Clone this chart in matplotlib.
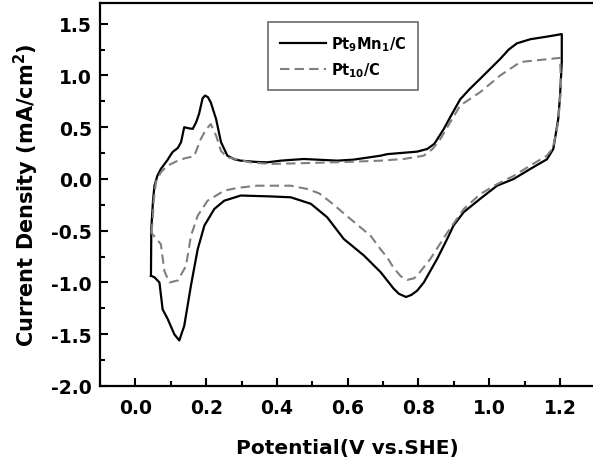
import matplotlib
matplotlib.use("Agg")
import matplotlib.pyplot as plt
from matplotlib.ticker import MultipleLocator

plt.rcParams['font.family'] = ['DejaVu Sans']
plt.rcParams['font.weight'] = 'bold'
plt.rcParams['mathtext.fontset'] = 'custom'
plt.rcParams['mathtext.rm'] = 'DejaVu Sans:bold'
plt.rcParams['mathtext.bf'] = 'DejaVu Sans:bold'
plt.rcParams['mathtext.it'] = 'DejaVu Sans:bold'

# Pt9Mn1/C (solid)
ptmn_x = [0.044, 0.045, 0.050, 0.054, 0.062, 0.072, 0.090, 0.105, 0.120, 0.129, 0.138, 0.150, 0.162,
          0.172, 0.180, 0.190, 0.197, 0.205, 0.213, 0.228, 0.242, 0.260, 0.280, 0.298, 0.340, 0.373,
          0.411, 0.476, 0.571, 0.617, 0.693, 0.712, 0.796, 0.825, 0.845, 0.871, 0.895, 0.918, 0.945,
          0.975, 1.031, 1.055, 1.078, 1.116, 1.172, 1.205,
          1.205, 1.200, 1.195, 1.181, 1.163, 1.116, 1.069, 1.022, 0.975, 0.928, 0.899, 0.881, 0.853,
          0.815, 0.796, 0.780, 0.765, 0.745, 0.730, 0.693, 0.646, 0.589, 0.542, 0.496, 0.439, 0.378,
          0.298, 0.251, 0.223, 0.195, 0.176, 0.157, 0.138, 0.124, 0.110, 0.091, 0.077, 0.068, 0.054,
          0.044]
ptmn_y = [-0.935, -0.48, -0.20, -0.065, 0.03, 0.097, 0.18, 0.26, 0.30, 0.355, 0.50, 0.49, 0.484,
          0.55, 0.63, 0.78, 0.806, 0.79, 0.74, 0.58, 0.355, 0.225, 0.19, 0.177, 0.165, 0.161,
          0.177, 0.193, 0.177, 0.187, 0.225, 0.24, 0.264, 0.29, 0.34, 0.48, 0.63, 0.77, 0.87,
          0.97, 1.16, 1.25, 1.31, 1.35, 1.38, 1.40,
          1.13, 0.80, 0.58, 0.29, 0.19, 0.097, 0.0, -0.065, -0.19, -0.32, -0.45, -0.58, -0.77,
          -1.0, -1.08, -1.12, -1.14, -1.11, -1.06, -0.90, -0.74, -0.58, -0.37, -0.24, -0.177, -0.168,
          -0.16, -0.21, -0.29, -0.45, -0.68, -1.03, -1.42, -1.56, -1.50, -1.35, -1.26, -1.0, -0.95,
          -0.935]

# Pt10/C (dashed)
pt_x = [0.045, 0.049, 0.052, 0.058, 0.072, 0.091, 0.120, 0.140, 0.166, 0.185, 0.200, 0.213, 0.228,
        0.242, 0.260, 0.326, 0.383, 0.500, 0.600, 0.693, 0.758, 0.815, 0.840, 0.862, 0.890, 0.918,
        0.975, 1.031, 1.088, 1.144, 1.200,
        1.203, 1.195, 1.180, 1.163, 1.116, 1.069, 1.022, 0.975, 0.928, 0.881, 0.834, 0.796, 0.787,
        0.768, 0.750, 0.730, 0.712, 0.693, 0.665, 0.608, 0.552, 0.520, 0.486, 0.439, 0.383, 0.345,
        0.290, 0.251, 0.204, 0.176, 0.157, 0.143, 0.120, 0.096, 0.082, 0.072, 0.045]
pt_y = [-0.52, -0.40, -0.20, -0.03, 0.065, 0.129, 0.177, 0.20, 0.22, 0.387, 0.48, 0.53, 0.42,
        0.27, 0.21, 0.16, 0.145, 0.155, 0.165, 0.177, 0.193, 0.225, 0.29, 0.387, 0.55, 0.71,
        0.84, 1.0, 1.13, 1.15, 1.17,
        0.90, 0.55, 0.30, 0.225, 0.13, 0.03, -0.05, -0.145, -0.29, -0.52, -0.77, -0.935, -0.96,
        -0.975, -0.94, -0.86, -0.76, -0.68, -0.55, -0.387, -0.225, -0.14, -0.097, -0.065, -0.065, -0.065,
        -0.085, -0.113, -0.21, -0.355, -0.55, -0.84, -0.98, -1.0, -0.89, -0.63, -0.52]

x_ticks = [0.0, 0.2, 0.4, 0.6, 0.8, 1.0, 1.2]
x_labels = ['0.0', '0.2', '0.4', '0.6', '0.8', '1.0', '1.2']
y_ticks = [-2.0, -1.5, -1.0, -0.5, 0.0, 0.5, 1.0, 1.5]
y_labels = ['-2.0', '-1.5', '-1.0', '-0.5', '0.0', '0.5', '1.0', '1.5']

fig = plt.figure(figsize=(5.93, 4.60), dpi=100)
ax = fig.add_axes([100/593, 73/460, 495.4/593, 383/460])

ax.plot(ptmn_x, ptmn_y, color='black', lw=1.6, label=r'Pt$_9$Mn$_1$/C')
ax.plot(pt_x, pt_y, color='#7f7f7f', lw=1.5, dashes=(4.5, 2.5), label=r'Pt$_{10}$/C')

ax.set_xlim(-0.1, 1.3)
ax.set_ylim(-2.0, 1.7)
ax.xaxis.set_minor_locator(MultipleLocator(0.1))
ax.yaxis.set_minor_locator(MultipleLocator(0.25))
ax.set_xticks(x_ticks)
ax.set_xticklabels(x_labels)
ax.set_yticks(y_ticks)
ax.set_yticklabels(y_labels)
ax.tick_params(which='major', direction='in', length=6, width=1.5, labelsize=13.5)
ax.tick_params(axis='x', which='major', pad=9)
ax.tick_params(axis='y', which='major', pad=6)
ax.tick_params(which='minor', direction='in', length=3.5, width=1.5)
ax.tick_params(top=False, right=False, which='both')
for s in ax.spines.values():
    s.set_linewidth(1.6)

ax.set_xlabel('Potential(V vs.SHE)', fontsize=14.5, fontweight='bold', labelpad=15)
ax.set_ylabel('Current Density (mA/cm$^2$)', fontsize=15, fontweight='bold', labelpad=7)

leg = ax.legend(loc='upper left', bbox_to_anchor=(0.34, 0.95), fontsize=10.5, frameon=True,
                fancybox=False, handlelength=3.15, handletextpad=0.35, borderpad=0.8,
                labelspacing=0.5, borderaxespad=0)
leg.get_frame().set_edgecolor('#444444')
leg.get_frame().set_linewidth(1.2)

fig.savefig('out.png', dpi=100)
